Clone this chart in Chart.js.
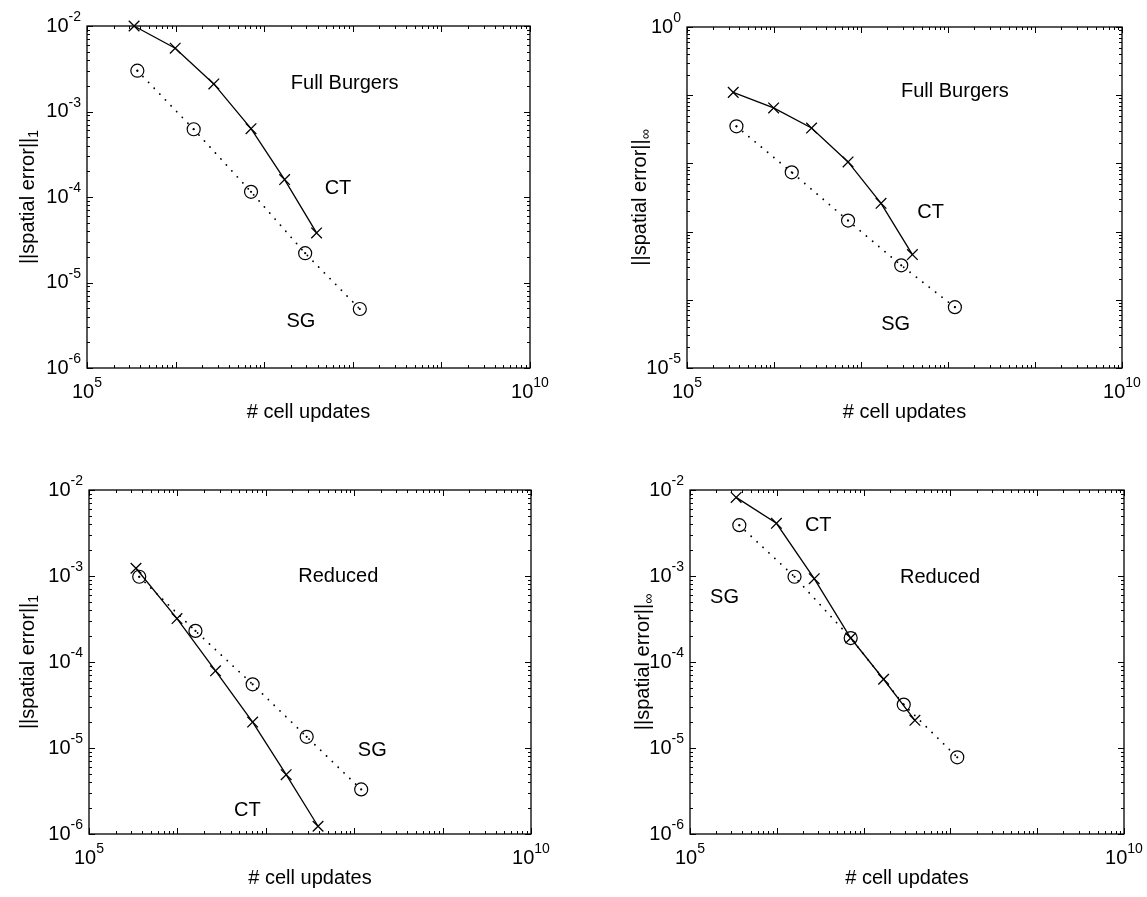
<!DOCTYPE html>
<html>
<head>
<meta charset="utf-8">
<title>Spatial error vs cell updates</title>
<script src="https://cdn.jsdelivr.net/npm/chart.js@4.4.1/dist/chart.umd.min.js"></script>
<style>
  body { margin: 0; background: #fff; width: 1147px; height: 897px; position: relative; overflow: hidden; }
  canvas { position: absolute; }
</style>
</head>
<body>
<canvas id="fullL1" width="573" height="448" style="left:0;top:0"></canvas>
<canvas id="fullLinf" width="574" height="448" style="left:573px;top:0"></canvas>
<canvas id="redL1" width="573" height="449" style="left:0;top:448px"></canvas>
<canvas id="redLinf" width="574" height="449" style="left:573px;top:448px"></canvas>
<script>
// # cell updates for each run (same for all four panels)
const ctUpdates = [3.4e5, 9.9e5, 2.7e6, 7.1e6, 1.7e7, 3.9e7];
const sgUpdates = [3.7e5, 1.6e6, 7.1e6, 2.9e7, 1.2e8];

// errors
const fullL1CT = [1.0e-2, 5.5e-3, 2.1e-3, 6.3e-4, 1.6e-4, 3.8e-5];
const fullL1SG = [3.0e-3, 6.2e-4, 1.15e-4, 2.2e-5, 4.9e-6];
const fullLinfCT = [0.11, 0.065, 0.033, 0.0105, 0.0026, 4.6e-4];
const fullLinfSG = [0.035, 7.4e-3, 1.45e-3, 3.2e-4, 7.8e-5];
const redL1CT = [1.23e-3, 3.2e-4, 7.9e-5, 2.0e-5, 4.9e-6, 1.23e-6];
const redL1SG = [9.8e-4, 2.3e-4, 5.5e-5, 1.35e-5, 3.3e-6];
const redLinfCT = [8.2e-3, 4.1e-3, 9.3e-4, 1.9e-4, 6.3e-5, 2.1e-5];
const redLinfSG = [3.9e-3, 9.8e-4, 1.9e-4, 3.2e-5, 7.8e-6];

// tick labels (powers of ten)
const xTickExp = [5, 10];
const yTickExpL1 = [-2, -3, -4, -5, -6];
const yTickExpFullLinf = [0, -5];

// text placed inside the plots, in data coordinates
const fullL1Notes = [['Full Burgers', 8.1e7, 2.1e-3], ['CT', 6.8e7, 1.26e-4], ['SG', 2.6e7, 3.5e-6]];
const fullLinfNotes = [['Full Burgers', 1.2e8, 0.115], ['CT', 6.3e7, 1.9e-3], ['SG', 2.5e7, 4.3e-5]];
const redL1Notes = [['Reduced', 6.6e7, 9.8e-4], ['SG', 1.6e8, 9.3e-6], ['CT', 6.2e6, 1.9e-6]];
const redLinfNotes = [['Reduced', 7.6e7, 9.5e-4], ['CT', 3.0e6, 3.9e-3], ['SG', 2.5e5, 5.6e-4]];

const FONT = '"Liberation Sans", Arial, Helvetica, sans-serif';
const BIG = '20px ' + FONT;
const SMALL = '14px ' + FONT;

function logTicks(min, max) {
  const out = [];
  const lo = Math.round(Math.log10(min)), hi = Math.round(Math.log10(max));
  for (let e = lo; e <= hi; e++) {
    out.push({ v: Math.pow(10, e), major: true });
    if (e < hi) for (let k = 2; k <= 9; k++) out.push({ v: k * Math.pow(10, e), major: false });
  }
  return out;
}

// "10" with a raised exponent
function drawPow(ctx, exp, x, y, align) {
  ctx.font = BIG;
  const w1 = ctx.measureText('10').width;
  ctx.font = SMALL;
  const w2 = ctx.measureText(String(exp)).width;
  const x0 = align === 'right' ? x - w1 - w2 : x - (w1 + w2) / 2;
  ctx.textAlign = 'left';
  ctx.textBaseline = 'middle';
  ctx.font = BIG;
  ctx.fillText('10', x0, y);
  ctx.textBaseline = 'alphabetic';
  ctx.font = SMALL;
  ctx.fillText(String(exp), x0 + w1, y - 5);
}

const matlabFrame = {
  id: 'matlabFrame',
  afterDraw(chart, args, o) {
    const { ctx, chartArea: a } = chart;
    const xs = chart.scales.x, ys = chart.scales.y;
    ctx.save();
    ctx.fillStyle = '#000';
    ctx.strokeStyle = '#000';

    // box
    ctx.lineWidth = 1.3;
    ctx.strokeRect(a.left, a.top, a.right - a.left, a.bottom - a.top);

    // inward ticks on all four sides
    ctx.lineWidth = 1;
    ctx.beginPath();
    logTicks(xs.min, xs.max).forEach(t => {
      const px = Math.round(xs.getPixelForValue(t.v)) + 0.5, len = t.major ? 6 : 3;
      ctx.moveTo(px, a.bottom); ctx.lineTo(px, a.bottom - len);
      ctx.moveTo(px, a.top); ctx.lineTo(px, a.top + len);
    });
    logTicks(ys.min, ys.max).forEach(t => {
      const py = Math.round(ys.getPixelForValue(t.v)) + 0.5, len = t.major ? 6 : 3;
      ctx.moveTo(a.left, py); ctx.lineTo(a.left + len, py);
      ctx.moveTo(a.right, py); ctx.lineTo(a.right - len, py);
    });
    ctx.stroke();

    // tick labels
    xTickExp.forEach(e => drawPow(ctx, e, xs.getPixelForValue(Math.pow(10, e)), a.bottom + 24, 'center'));
    o.yTicks.forEach(e => drawPow(ctx, e, a.left - 6, ys.getPixelForValue(Math.pow(10, e)), 'right'));

    // axis titles
    ctx.font = BIG;
    ctx.textAlign = 'center';
    ctx.textBaseline = 'middle';
    ctx.fillText('# cell updates', (a.left + a.right) / 2, a.bottom + 44);

    ctx.save();
    ctx.translate(o.yTitleX, (a.top + a.bottom) / 2);
    ctx.rotate(-Math.PI / 2);
    ctx.font = BIG;
    const main = '||spatial error||';
    const wm = ctx.measureText(main).width;
    ctx.font = SMALL;
    const wsub = ctx.measureText(o.sub).width;
    const start = -(wm + wsub) / 2;
    ctx.textAlign = 'left';
    ctx.font = BIG;
    ctx.fillText(main, start, 0);
    ctx.font = SMALL;
    ctx.fillText(o.sub, start + wm, 6);
    ctx.restore();

    // in-plot labels
    ctx.font = BIG;
    ctx.textAlign = 'center';
    ctx.textBaseline = 'middle';
    o.notes.forEach(([txt, x, y]) => ctx.fillText(txt, xs.getPixelForValue(x), ys.getPixelForValue(y)));
    ctx.restore();
  }
};

function makePanel(id, ct, sg, yMin, yMax, yTicks, sub, yTitleX, notes, pad) {
  new Chart(document.getElementById(id), {
    type: 'scatter',
    data: {
      datasets: [
        {
          label: 'CT',
          data: ctUpdates.map((x, i) => ({ x: x, y: ct[i] })),
          showLine: true,
          borderColor: '#000',
          borderWidth: 1.3,
          pointStyle: 'crossRot',
          pointRadius: 7.5,
          pointBorderWidth: 1.3,
          pointBorderColor: '#000',
          clip: false
        },
        {
          label: 'SG',
          data: sgUpdates.map((x, i) => ({ x: x, y: sg[i] })),
          showLine: true,
          borderColor: '#000',
          borderWidth: 1.8,
          borderDash: [0.1, 8],
          borderCapStyle: 'round',
          pointStyle: 'circle',
          pointRadius: 6.5,
          pointBorderWidth: 1.2,
          pointBorderColor: '#000',
          pointBackgroundColor: 'rgba(0,0,0,0)',
          clip: false
        },
        {
          label: 'SG centre',
          data: sgUpdates.map((x, i) => ({ x: x, y: sg[i] })),
          showLine: false,
          pointRadius: 1.1,
          pointBorderWidth: 0,
          pointBackgroundColor: '#000',
          clip: false
        }
      ]
    },
    options: {
      responsive: false,
      animation: false,
      events: [],
      layout: { padding: pad },
      plugins: {
        legend: { display: false },
        tooltip: { enabled: false },
        matlabFrame: { yTicks: yTicks, sub: sub, yTitleX: yTitleX, notes: notes }
      },
      scales: {
        x: { type: 'logarithmic', min: 1e5, max: 1e10, display: false },
        y: { type: 'logarithmic', min: yMin, max: yMax, display: false }
      }
    },
    plugins: [matlabFrame]
  });
}

makePanel('fullL1', fullL1CT, fullL1SG, 1e-6, 1e-2, yTickExpL1, '1', 28, fullL1Notes,
  { left: 87, top: 26, right: 43, bottom: 80 });
makePanel('fullLinf', fullLinfCT, fullLinfSG, 1e-5, 1e0, yTickExpFullLinf, '\u221e', 67, fullLinfNotes,
  { left: 114, top: 27, right: 25, bottom: 80 });
makePanel('redL1', redL1CT, redL1SG, 1e-6, 1e-2, yTickExpL1, '1', 28, redL1Notes,
  { left: 89, top: 42, right: 42, bottom: 63 });
makePanel('redLinf', redLinfCT, redLinfSG, 1e-6, 1e-2, yTickExpL1, '\u221e', 70, redLinfNotes,
  { left: 117, top: 42, right: 23, bottom: 63 });
</script>
</body>
</html>
